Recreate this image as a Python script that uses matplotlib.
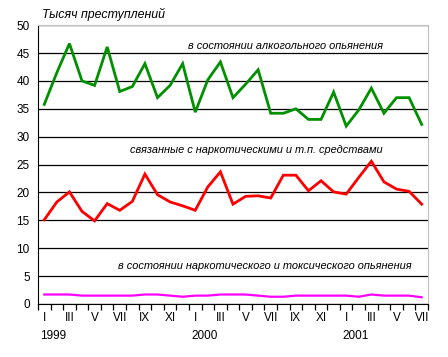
import matplotlib
matplotlib.use('Agg')
import matplotlib.pyplot as plt
import matplotlib.transforms as mtransforms

plt.rcParams['font.family'] = ['Liberation Sans', 'DejaVu Sans']

# monthly data, Jan 1999 - Jul 2001
alcohol = [35.8, 41.5, 46.7, 40.0, 39.2, 46.1, 38.1, 39.0, 43.1, 37.0, 39.2, 43.1,
           34.4, 40.2, 43.4, 37.0, 39.4, 42.0, 34.2, 34.2, 35.0, 33.1, 33.1, 38.0,
           31.9, 34.8, 38.7, 34.2, 37.0, 37.0, 32.2]
narco = [15.1, 18.3, 20.1, 16.6, 14.9, 18.0, 16.8, 18.4, 23.3, 19.6, 18.3, 17.6,
         16.8, 21.0, 23.7, 17.9, 19.3, 19.4, 19.0, 23.1, 23.1, 20.3, 22.1, 20.1,
         19.7, 22.7, 25.6, 21.9, 20.6, 20.2, 17.9]
toxic = [1.7, 1.7, 1.7, 1.5, 1.5, 1.5, 1.5, 1.5, 1.7, 1.7, 1.5, 1.3, 1.5, 1.5, 1.7,
         1.7, 1.7, 1.5, 1.3, 1.3, 1.5, 1.5, 1.5, 1.5, 1.5, 1.3, 1.7, 1.5, 1.5, 1.5, 1.2]
months = ['I', 'II', 'III', 'IV', 'V', 'VI', 'VII', 'VIII', 'IX', 'X', 'XI', 'XII']
years = ['1999', '2000', '2001']

labels = [months[i % 12] for i in range(len(alcohol))]
x = list(range(len(alcohol)))

fig = plt.figure(figsize=(4.48, 3.57), dpi=100)
ax = fig.add_axes([0.0848, 0.1485, 0.8705, 0.781])

ax.plot(x, alcohol, color='#009000', lw=2.0, solid_joinstyle='miter', zorder=3)
ax.plot(x, narco, color='#ff0000', lw=2.0, solid_joinstyle='miter', zorder=3)
ax.plot(x, toxic, color='#ff00ff', lw=1.6, zorder=3)

ax.set_xlim(-0.5, len(x) - 0.5)
ax.set_ylim(0, 50)
ax.set_yticks(range(0, 51, 5))
ax.yaxis.grid(True, color='black', lw=0.9)
ax.set_axisbelow(True)
ax.tick_params(axis='y', length=0, labelsize=8.5, pad=6)

ax.set_xticks([i - 0.5 for i in range(len(x) + 1)])
ax.set_xticklabels([])
ax.tick_params(axis='x', direction='out', length=4, width=0.9)
trans = mtransforms.blended_transform_factory(ax.transData, ax.transAxes)
for i, lab in enumerate(labels):
    if i % 2 == 0:
        ax.text(i, -0.03, lab, transform=trans, ha='center', va='top', fontsize=8.5)
for k, yr in enumerate(years):
    ax.text(k * 12 - 0.3, -0.092, yr, transform=trans, ha='left', va='top', fontsize=8.5)

for s in ['top', 'right']:
    ax.spines[s].set_color('#c0c0c0')
for s in ['left', 'bottom']:
    ax.spines[s].set_color('black')

ax.text(26.9, 46.2, 'в состоянии алкогольного опьянения', ha='right', va='center',
        fontsize=7.9, style='italic')
ax.text(26.9, 27.6, 'связанные с наркотическими и т.п. средствами', ha='right', va='center',
        fontsize=7.9, style='italic')
ax.text(29.2, 6.9, 'в состоянии наркотического и токсического опьянения', ha='right', va='center',
        fontsize=7.9, style='italic')
fig.text(0.093, 0.96, 'Тысяч преступлений', ha='left', va='center', fontsize=8.9, style='italic')

fig.savefig('out.png', dpi=100)
